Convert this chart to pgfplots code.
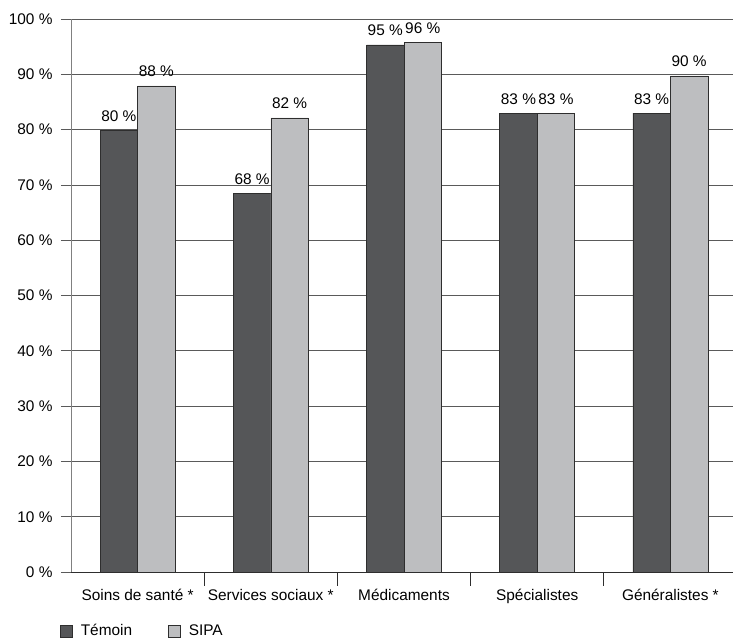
\documentclass[border=0pt]{standalone}
\usepackage{fontspec}
\setmainfont{Liberation Sans}
\usepackage{pgfplots}
\usepackage{pgfplotstable}
\pgfplotsset{compat=1.18}
\definecolor{dark}{HTML}{555658}
\definecolor{light}{HTML}{BDBEC0}
\definecolor{edge}{HTML}{2E2E2E}
\definecolor{gridc}{HTML}{5A5A5A}
\newcommand{\ff}{\fontsize{15.4bp}{18bp}\selectfont}
\pgfplotstableread{
x t tl s sl
0 79.9 80 87.9 88
1 68.5 68 82.1 82
2 95.3 95 95.8 96
3 83.0 83 83.0 83
4 83.0 83 89.7 90
}\data
\begin{document}
\begin{tikzpicture}[font=\ff]
\begin{axis}[
  at={(71bp,70bp)}, anchor=south west,
  scale only axis, width=662bp, height=553bp,
  xmin=-0.5, xmax=4.47, ymin=0, ymax=100,
  ybar=0pt, bar width=37.5bp,
  axis x line*=bottom, axis y line*=left,
  x axis line style={draw=edge, line width=0.7bp},
  y axis line style={draw=gray, line width=0.7bp},
  xtick={0,1,2,3,4},
  xticklabels={Soins de santé *, Services sociaux *, Médicaments, Spécialistes, Généralistes *},
  major x tick style={draw=none},
  minor xtick={0.5,1.5,2.5,3.5},
  minor x tick style={draw=edge, line width=0.7bp},
  minor tick length=14bp,
  xtick align=outside,
  every tick label/.append style={font=\ff},
  xticklabel style={anchor=base, yshift=-19bp},
  ytick={0,10,...,100},
  yticklabels={0 \%,10 \%,20 \%,30 \%,40 \%,50 \%,60 \%,70 \%,80 \%,90 \%,100 \%},
  ytick align=outside, major tick length=10bp,
  major y tick style={draw=gridc, line width=0.6bp},
  yticklabel style={anchor=east, xshift=-5bp},
  ymajorgrids, major grid style={draw=gridc, line width=0.6bp},
  point meta=explicit symbolic,
  nodes near coords={\pgfplotspointmeta\ \%},
  every node near coord/.append style={anchor=base, yshift=9bp, inner sep=0pt, font=\ff},
  legend style={at={(-0.0166,-0.1067)}, anchor=west, draw=none, fill=none,
    legend columns=2, inner sep=0pt, font=\ff,
    nodes={inner sep=0pt},
    /tikz/every odd column/.append style={column sep=8bp},
    /tikz/every even column/.append style={column sep=36bp}},
  legend cell align=left,
  legend image code/.code={\draw[#1, draw=edge, line width=0.6bp] (0bp,-6bp) rectangle (12bp,6bp);},
]
\addplot[fill=dark, draw=edge, line width=0.6bp] table[x=x, y=t, meta=tl] {\data};
\addplot[fill=light, draw=edge, line width=0.6bp] table[x=x, y=s, meta=sl] {\data};
\legend{Témoin, SIPA}
\end{axis}
\pgfresetboundingbox
\useasboundingbox (0,0) rectangle (733bp,642bp);
\end{tikzpicture}
\end{document}
